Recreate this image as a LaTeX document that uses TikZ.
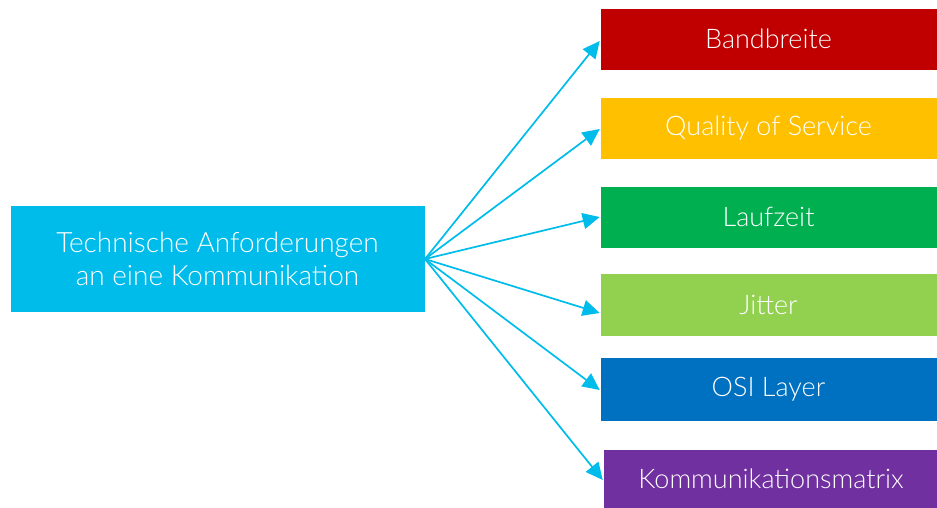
\documentclass[tikz,border=0pt]{standalone}
\usepackage{fontspec}
\setmainfont{Lato Light}
\usetikzlibrary{arrows.meta}
\definecolor{cyanc}{HTML}{00BCEB}
\definecolor{redc}{HTML}{C00000}
\definecolor{yellowc}{HTML}{FFC000}
\definecolor{greenc}{HTML}{00B050}
\definecolor{lgreenc}{HTML}{92D050}
\definecolor{bluec}{HTML}{0070C0}
\definecolor{purplec}{HTML}{7030A0}
\tikzset{
  box/.style={inner sep=0pt, text=white, font=\fontsize{27}{33}\selectfont, align=center, draw=white, line width=0.6pt},
  rbox/.style={box, minimum width=337pt},
  conn/.style={cyanc, line width=1.7pt, -{Triangle[length=17pt,width=16pt]}}
}
\begin{document}
\begin{tikzpicture}[x=1pt,y=-1pt]
\useasboundingbox (0,0) rectangle (937,507);
\node[box, fill=cyanc, minimum width=415pt, minimum height=107pt, font=\fontsize{28}{33}\selectfont] (tech) at (217.5,258.5) {Technische Anforderungen\\an eine Kommunikation};
\node[rbox, fill=redc, minimum height=62pt] (band) at (768.5,39) {Bandbreite};
\node[rbox, fill=yellowc, minimum height=62pt] (qos) at (768.5,128) {Quality of Service};
\node[rbox, fill=greenc, minimum height=62pt] (lauf) at (768.5,217) {Laufzeit};
\node[rbox, fill=lgreenc, minimum height=63pt] (jit) at (768.5,304.5) {Jitter};
\node[rbox, fill=bluec, minimum height=64pt] (osi) at (768.5,389) {OSI Layer};
\node[box, fill=purplec, minimum width=336pt, minimum height=60pt] (komm) at (771,479) {Kommunikationsmatrix};
\coordinate (src) at (425,259);
\draw[conn] (src) -- ([yshift=-2pt]band.west);
\draw[conn] (src) -- ([yshift=-1pt]qos.west);
\draw[conn] (src) -- (lauf.west);
\draw[conn] (src) -- ([yshift=-8.5pt]jit.west);
\draw[conn] (src) -- ([yshift=-1pt]osi.west);
\draw[conn] (src) -- ([yshift=-1pt]komm.west);
\end{tikzpicture}
\end{document}
